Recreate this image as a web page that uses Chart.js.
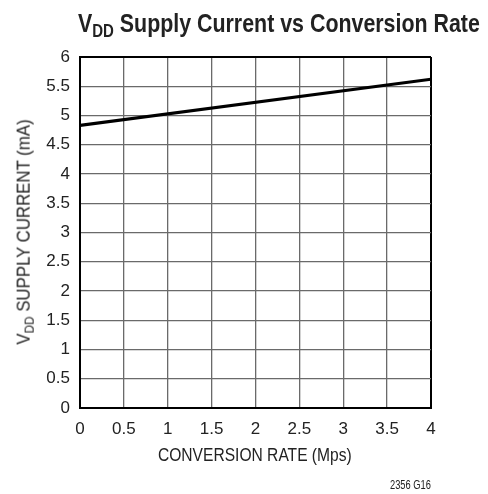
<!DOCTYPE html>
<html>
<head>
<meta charset="utf-8">
<script src="https://cdn.jsdelivr.net/npm/chart.js@4"></script>
<style>
  html, body { margin:0; padding:0; background:#fff; }
  #wrap { position:relative; width:488px; height:494px; font-family:"Liberation Sans",Arial,sans-serif; color:#222; }
  canvas { position:absolute; left:0; top:0; }
  .t { position:absolute; left:0; top:0; white-space:nowrap; line-height:1; }
  .t sub { font-size:0.7em; vertical-align:-0.3em; line-height:0; }
  #title { font-size:25px; font-weight:bold; }
  #ytitle { font-size:18px; }
  #xtitle { font-size:18px; }
  #note { font-size:12.5px; }
</style>
</head>
<body>
<div id="wrap">
  <canvas id="c" width="488" height="494"></canvas>
  <div class="t" id="title">V<sub>DD</sub> Supply Current vs Conversion Rate</div>
  <div class="t" id="ytitle">V<sub>DD</sub> SUPPLY CURRENT (mA)</div>
  <div class="t" id="xtitle">CONVERSION RATE (Mps)</div>
  <div class="t" id="note">2356 G16</div>
</div>
<script>
const rateMps = [0, 4];
const supplyCurrent_mA = [4.83, 5.62];
const xTicks = [0, 0.5, 1, 1.5, 2, 2.5, 3, 3.5, 4];
const yTicks = [0, 0.5, 1, 1.5, 2, 2.5, 3, 3.5, 4, 4.5, 5, 5.5, 6];

// place text centred at (cx, cy), condensed to a given width, optional rotation
function place(id, cx, cy, width, rot) {
  const el = document.getElementById(id);
  const w = el.offsetWidth, h = el.offsetHeight;
  const sx = width / w;
  el.style.left = (cx - w / 2) + 'px';
  el.style.top = (cy - h / 2) + 'px';
  el.style.transformOrigin = '50% 50%';
  el.style.transform = (rot ? 'rotate(' + rot + 'deg) ' : '') + 'scaleX(' + sx + ')';
}
place('title', 279, 23, 402, 0);
place('ytitle', 23, 232, 225, -90);
place('xtitle', 255, 455, 194, 0);
place('note', 410.5, 485, 41, 0);

const tickFont = { family: "'Liberation Sans',Arial,sans-serif", size: 17 };
const isEdge = (ctx, min, max) => ctx.tick && (ctx.tick.value === min || ctx.tick.value === max);
const edgeColor = (min, max) => (ctx) => isEdge(ctx, min, max) ? '#000' : '#6a6a6a';
const edgeWidth = (min, max) => (ctx) => isEdge(ctx, min, max) ? 2 : 1.3;

new Chart(document.getElementById('c'), {
  type: 'line',
  data: {
    datasets: [{
      data: rateMps.map((x, i) => ({ x, y: supplyCurrent_mA[i] })),
      borderColor: '#000',
      borderWidth: 3.2,
      pointRadius: 0,
      tension: 0
    }]
  },
  options: {
    responsive: false,
    animation: false,
    layout: { padding: { top: 57, right: 57, left: 0, bottom: 0 } },
    plugins: { legend: { display: false }, tooltip: { enabled: false }, title: { display: false } },
    scales: {
      x: {
        type: 'linear', min: 0, max: 4,
        afterBuildTicks: (s) => { s.ticks = xTicks.map(v => ({ value: v })); },
        afterFit: (s) => { s.height = 86; },
        ticks: { color: '#222', font: tickFont, padding: 11, maxRotation: 0, callback: v => String(v) },
        grid: { color: edgeColor(0, 4), lineWidth: edgeWidth(0, 4), drawTicks: false },
        border: { color: '#000', width: 2 }
      },
      y: {
        type: 'linear', min: 0, max: 6,
        afterBuildTicks: (s) => { s.ticks = yTicks.map(v => ({ value: v })); },
        afterFit: (s) => { s.width = 80; },
        ticks: { color: '#222', font: tickFont, padding: 10, callback: v => String(v) },
        grid: { color: edgeColor(0, 6), lineWidth: edgeWidth(0, 6), drawTicks: false },
        border: { color: '#000', width: 2 }
      }
    }
  }
});
</script>
</body>
</html>
